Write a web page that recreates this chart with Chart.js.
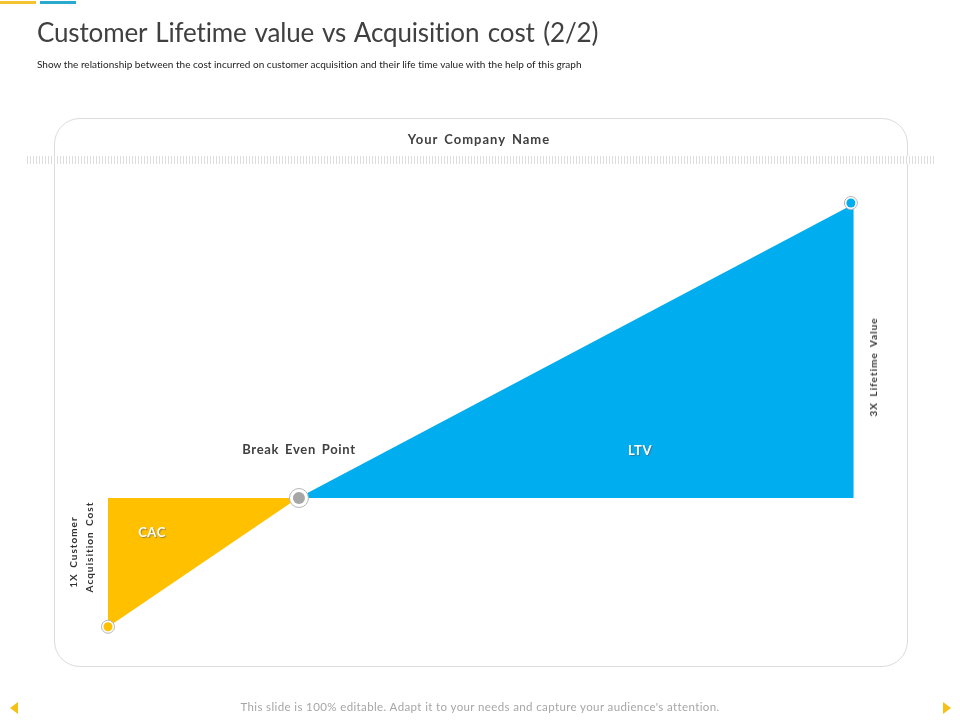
<!DOCTYPE html>
<html>
<head>
<meta charset="utf-8">
<script src="https://cdn.jsdelivr.net/npm/chart.js@4"></script>
<style>
html, body { margin: 0; padding: 0; background: #fff; }
#slide { position: relative; width: 960px; height: 720px; overflow: hidden; font-family: Lato, sans-serif; color: #404040; }
#slide canvas { position: absolute; left: 0; top: 0; }
.txt { position: absolute; white-space: nowrap; z-index: 2; }
.mid { transform: translate(-50%, -50%); }
.rot { transform: translate(-50%, -50%) rotate(-90deg); }
.lab { font-weight: 700; font-size: 13px; letter-spacing: 0.6px; word-spacing: 2px; }
.small { font-size: 10px; letter-spacing: 1px; }
.white { color: #fff; text-shadow: 1px 1px 1px rgba(90, 90, 90, 0.6); }
#bar1, #bar2 { position: absolute; top: 1px; height: 3px; }
#bar1 { left: 0; width: 36px; background: #f4c430; }
#bar2 { left: 40px; width: 36px; background: #2aa9cf; }
#panel { position: absolute; left: 54px; top: 118px; width: 852px; height: 547px; border: 1px solid #dcdcdc; border-radius: 26px; box-sizing: content-box; }
#ticks { position: absolute; left: 27px; top: 156px; width: 907px; height: 8px;
  background: repeating-linear-gradient(90deg, #dedede 0, #dedede 1px, #fff 1px, #fff 3px); }
.arrow { position: absolute; top: 702px; width: 0; height: 0; border-top: 6px solid transparent; border-bottom: 6px solid transparent; }
#prev { left: 10px; border-right: 8px solid #f5c116; }
#next { left: 943px; border-left: 8px solid #f5c116; }
</style>
</head>
<body>
<div id="slide">
  <div id="bar1"></div><div id="bar2"></div>
  <div id="panel"></div>
  <div id="ticks"></div>
  <canvas id="ltvChart" width="960" height="720"></canvas>

  <div class="txt" style="left:37px;top:16px;font-size:26px;letter-spacing:-0.15px;word-spacing:2px;">Customer Lifetime value vs Acquisition cost (2/2)</div>
  <div class="txt" style="left:37px;top:58px;font-size:10px;letter-spacing:0.02px;color:#222;">Show the relationship between the cost incurred on customer acquisition and their life time value with the help of this graph</div>
  <div class="txt mid lab" style="left:479px;top:139px;letter-spacing:1px;">Your Company Name</div>
  <div class="txt mid lab" style="left:299px;top:449px;letter-spacing:0.68px;">Break Even Point</div>
  <div class="txt mid lab white" style="left:640px;top:450px;">LTV</div>
  <div class="txt mid lab white" style="left:152px;top:532px;">CAC</div>
  <div class="txt rot lab small" style="left:73px;top:552px;color:#333;">1X Customer</div>
  <div class="txt rot lab small" style="left:89px;top:547px;color:#333;">Acquisition Cost</div>
  <div class="txt rot lab small" style="left:873px;top:367px;color:#333;">3X Lifetime Value</div>
  <div class="txt mid" style="left:480px;top:706px;font-size:11.5px;color:#a6a6a6;letter-spacing:0.38px;">This slide is 100% editable. Adapt it to your needs and capture your audience's attention.</div>
  <div id="prev" class="arrow"></div><div id="next" class="arrow"></div>
</div>

<script>
// x = customer lifetime (break even = 1), y = value in units of the acquisition cost
const cacX = [0, 1];
const cacY = [-1, 0];
const ltvX = [1, 3.925];
const ltvY = [0, 2.28];

const markerX = [0, 1.005, 3.91];
const markerY = [-0.998, 0, 2.287];
const markerColors = ['#ffc000', '#a6a6a6', '#00adef'];
const markerOuter = [6.5, 9.5, 6.5];
const markerInner = [4.5, 6, 4.5];

function toPoints(xs, ys) {
    return xs.map((x, i) => ({ x: x, y: ys[i] }));
}

const ctx = document.getElementById('ltvChart').getContext('2d');
const ltvChart = new Chart(ctx, {
    type: 'line',
    data: {
        datasets: [
            {
                label: 'Inner',
                data: toPoints(markerX, markerY),
                showLine: false,
                pointRadius: markerInner,
                pointBackgroundColor: markerColors,
                pointBorderWidth: 0,
                order: 0
            },
            {
                label: 'Outer',
                data: toPoints(markerX, markerY),
                showLine: false,
                pointRadius: markerOuter,
                pointBackgroundColor: '#ffffff',
                pointBorderColor: '#b5b5b5',
                pointBorderWidth: 1,
                order: 1
            },
            {
                label: 'LTV',
                data: toPoints(ltvX, ltvY),
                borderWidth: 0,
                pointRadius: 0,
                backgroundColor: '#00adef',
                fill: 'origin',
                order: 2
            },
            {
                label: 'CAC',
                data: toPoints(cacX, cacY),
                borderWidth: 0,
                pointRadius: 0,
                backgroundColor: '#ffc000',
                fill: 'origin',
                order: 3
            }
        ]
    },
    options: {
        responsive: false,
        animation: false,
        events: [],
        layout: { padding: 0, autoPadding: false },
        plugins: {
            legend: { display: false },
            tooltip: { enabled: false }
        },
        scales: {
            x: { type: 'linear', display: false, min: -0.5684, max: 4.4842 },
            y: { type: 'linear', display: false, min: -1.7209, max: 3.8605 }
        }
    }
});
</script>
</body>
</html>
